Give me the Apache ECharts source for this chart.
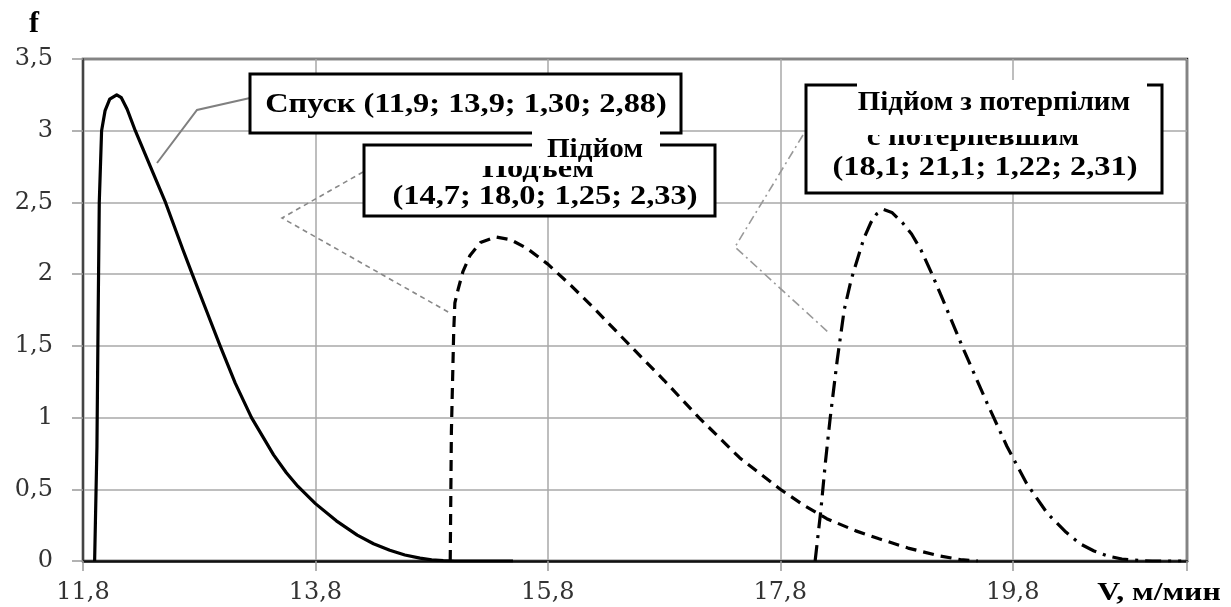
<!DOCTYPE html>
<html><head><meta charset="utf-8">
<script src="https://cdn.jsdelivr.net/npm/echarts@6/dist/echarts.min.js"></script>
<style>html,body{margin:0;padding:0;background:#fff}#c{width:1231px;height:607px}</style>
</head><body><div id="c"></div>
<script>
// Спуск (descent)
const spuskV = [11.9, 11.92, 11.93, 11.94, 11.96, 11.99, 12.03, 12.09, 12.13, 12.18, 12.25, 12.38, 12.51, 12.66, 12.74, 12.86, 12.98, 13.11, 13.25, 13.44, 13.55, 13.65, 13.8, 13.98, 14.16, 14.3, 14.44, 14.57, 14.7, 14.8, 14.9, 15.0, 15.5];
const spuskF = [0, 0.8, 1.68, 2.5, 3.0, 3.14, 3.22, 3.25, 3.23, 3.15, 3.0, 2.75, 2.5, 2.17, 2.0, 1.75, 1.5, 1.24, 1.0, 0.74, 0.615, 0.52, 0.40, 0.28, 0.18, 0.12, 0.075, 0.042, 0.02, 0.008, 0.002, 0, 0];
// Подъем / Підйом (ascent)
const pidyomV = [14.96, 14.97, 14.99, 15.0, 15.03, 15.07, 15.13, 15.22, 15.35, 15.48, 15.62, 15.8, 16.0, 16.2, 16.51, 16.8, 17.1, 17.45, 17.8, 18.0, 18.2, 18.45, 18.65, 18.9, 19.17, 19.35, 19.5];
const pidyomF = [0, 0.9, 1.6, 1.8, 1.9, 2.02, 2.13, 2.22, 2.26, 2.24, 2.18, 2.07, 1.92, 1.76, 1.5, 1.26, 1.0, 0.72, 0.5, 0.39, 0.295, 0.21, 0.155, 0.09, 0.035, 0.01, 0];
// Подъем с потерпевшим / Підйом з потерпілим (ascent with victim)
const victimV = [18.1, 18.15, 18.19, 18.23, 18.29, 18.35, 18.41, 18.47, 18.52, 18.58, 18.63, 18.69, 18.76, 18.85, 18.93, 19.01, 19.1, 19.2, 19.38, 19.58, 19.75, 19.92, 20.1, 20.26, 20.38, 20.5, 20.62, 20.74, 20.9, 21.0, 21.25];
const victimF = [0, 0.36, 0.7, 1.0, 1.4, 1.75, 1.96, 2.12, 2.25, 2.36, 2.42, 2.45, 2.43, 2.36, 2.28, 2.17, 2.01, 1.82, 1.47, 1.10, 0.80, 0.54, 0.33, 0.2, 0.12, 0.07, 0.035, 0.014, 0.003, 0, 0];

const xTickLabels = ['11,8', '13,8', '15,8', '17,8', '19,8'];
const xMin = 11.8, xMax = 21.3;
const yMin = 0, yMax = 3.5, yStep = 0.5;

const zip = (a, b) => a.map((v, i) => [v, b[i]]);
const tickFont = 'DejaVu Serif';
const chart = echarts.init(document.getElementById('c'));

function txt(x, y, text, size, sx, z) {
  return { type: 'text', z: z, x: x, y: y, scaleX: sx, style: { text: text, font: 'bold ' + size + 'px "Liberation Serif"', fill: '#000', align: 'center', verticalAlign: 'middle' } };
}

const option = {
  animation: false,
  backgroundColor: '#fff',
  grid: { left: 83, right: 44, top: 59, bottom: 46, show: true, borderColor: '#1a1a1a', borderWidth: 2.5, backgroundColor: 'transparent' },
  xAxis: [
    { type: 'value', min: xMin, max: xMax, show: false },
    { type: 'value', min: 0, max: xMax - xMin, interval: 2, position: 'bottom',
      axisLine: { show: true, lineStyle: { color: '#111', width: 2.5 } },
      axisTick: { show: true, length: 10, lineStyle: { color: '#999', width: 1.5 } },
      splitLine: { show: true, lineStyle: { color: '#a8a8a8', width: 1.5 } },
      axisLabel: { margin: 20, fontFamily: tickFont, fontSize: 24, color: '#333',
        formatter: v => { const i = Math.round(v / 2); return Math.abs(v - i * 2) < 1e-6 && xTickLabels[i] ? xTickLabels[i] : ''; } } }
  ],
  yAxis: { type: 'value', min: yMin, max: yMax, interval: yStep,
    axisLine: { show: true, lineStyle: { color: '#444', width: 2 } },
    axisTick: { show: true, length: 11, lineStyle: { color: '#999', width: 1.5 } },
    splitLine: { show: true, lineStyle: { color: '#a8a8a8', width: 1.5 } },
    axisLabel: { margin: 30, fontFamily: tickFont, fontSize: 24, color: '#333', formatter: v => String(v).replace('.', ',') } },
  series: [
    { type: 'line', xAxisIndex: 0, data: zip(spuskV, spuskF), showSymbol: false, smooth: false, lineStyle: { color: '#000', width: 3.2, type: 'solid', join: 'round' }, z: 5 },
    { type: 'line', xAxisIndex: 0, data: zip(pidyomV, pidyomF), showSymbol: false, smooth: false, lineStyle: { color: '#000', width: 3.2, type: [11, 7] }, z: 5 },
    { type: 'line', xAxisIndex: 0, data: zip(victimV, victimF), showSymbol: false, smooth: false, lineStyle: { color: '#000', width: 3.2, type: [16, 7, 3, 7] }, z: 5 }
  ],
  graphic: [
    // leader lines
    { type: 'polyline', z: 10, shape: { points: [[250, 98], [197, 110], [157, 163]] }, style: { stroke: '#808080', lineWidth: 2, fill: null } },
    { type: 'polyline', z: 10, shape: { points: [[363, 172], [282, 218], [450, 313]] }, style: { stroke: '#888', lineWidth: 1.6, lineDash: [5, 4], fill: null } },
    { type: 'polyline', z: 10, shape: { points: [[803, 135], [735, 247], [828, 332]] }, style: { stroke: '#999', lineWidth: 1.6, lineDash: [9, 4, 2, 4], fill: null } },
    // Спуск box
    { type: 'rect', z: 20, shape: { x: 250, y: 74, width: 431, height: 59 }, style: { fill: '#fff', stroke: '#000', lineWidth: 3 } },
    txt(466, 105, 'Спуск (11,9; 13,9; 1,30; 2,88)', 27, 1.2, 21),
    // Подъем box
    { type: 'rect', z: 22, shape: { x: 364, y: 145, width: 351, height: 71 }, style: { fill: '#fff', stroke: '#000', lineWidth: 3 } },
    txt(538, 170, 'Подъем', 27, 1.2, 23),
    txt(545, 197, '(14,7; 18,0; 1,25; 2,33)', 27, 1.2, 23),
    { type: 'rect', z: 24, shape: { x: 470, y: 148, width: 190, height: 18 }, style: { fill: '#fff' } },
    { type: 'rect', z: 24, shape: { x: 532, y: 128, width: 128, height: 38 }, style: { fill: '#fff' } },
    txt(595, 150, 'Підйом', 27, 1.08, 25),
    // Подъем с потерпевшим box
    { type: 'rect', z: 20, shape: { x: 806, y: 85, width: 356, height: 108 }, style: { fill: '#fff', stroke: '#000', lineWidth: 3 } },
    txt(973, 138, 'с потерпевшим', 27, 1.14, 21),
    txt(985, 168, '(18,1; 21,1; 1,22; 2,31)', 27, 1.2, 21),
    { type: 'rect', z: 24, shape: { x: 857, y: 80, width: 290, height: 55 }, style: { fill: '#fff' } },
    txt(994, 103, 'Підйом з потерпілим', 27, 1.07, 25),
    // axis names
    txt(34, 24, 'f', 30, 1, 30),
    txt(1159, 594, 'V, м/мин', 25, 1.27, 30)
  ]
};
chart.setOption(option);
</script>
</body></html>
